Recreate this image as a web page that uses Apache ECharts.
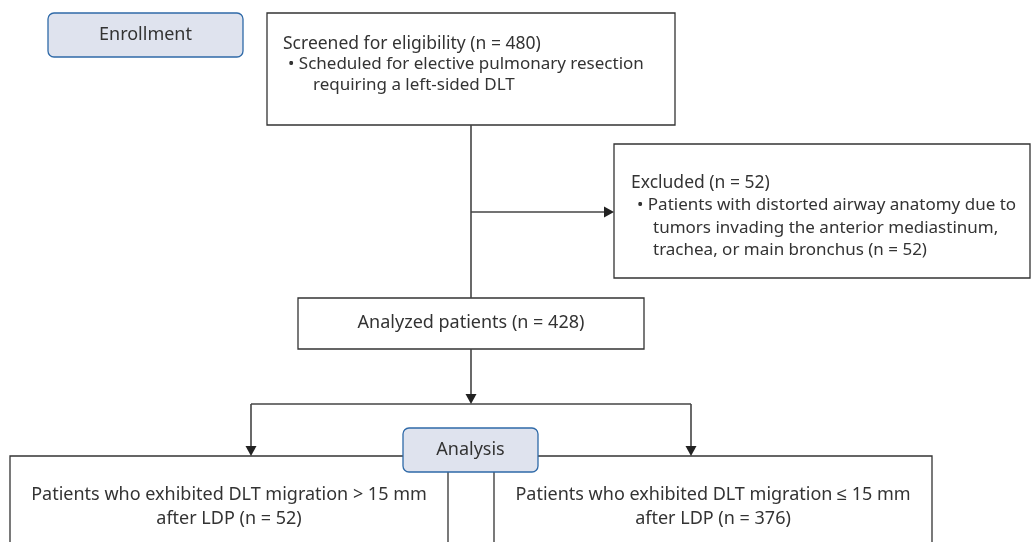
<!DOCTYPE html>
<html>
<head>
<meta charset="utf-8">
<script src="https://cdn.jsdelivr.net/npm/echarts@6/dist/echarts.min.js"></script>
<style>
  html, body { margin: 0; padding: 0; background: #fff; }
  #main { width: 1032px; height: 542px; }
</style>
</head>
<body>
<div id="main"></div>
<script>
// flow data
var stageLabels = ['Enrollment', 'Analysis'];
var boxTitles = ['Screened for eligibility', 'Excluded', 'Analyzed patients'];
var boxCounts = [480, 52, 428];
var screenedNotes = ['Scheduled for elective pulmonary resection', 'requiring a left-sided DLT'];
var excludedNotes = ['Patients with distorted airway anatomy due to', 'tumors invading the anterior mediastinum,', 'trachea, or main bronchus'];
var migrationLimit = 15;
var groupSigns = ['>', '≤'];
var groupCounts = [52, 376];

(function(){
    var myChart = echarts.init(document.getElementById('main'));
    var TXT = '#333';
    var LINE = '#444';
    var els = [];

    function nTxt(n){ return '(n = ' + n + ')'; }

    function box(x, y, w, h){
        els.push({ type: 'rect', shape: { x: x, y: y, width: w, height: h },
            style: { fill: '#fff', stroke: '#333', lineWidth: 1.3 }, z: 1 });
    }
    function stage(x, y, w, h, label){
        els.push({ type: 'rect', shape: { x: x, y: y, width: w, height: h, r: 6 },
            style: { fill: '#dfe3ee', stroke: '#2f6aa8', lineWidth: 1.3 }, z: 5 });
        text(x + w / 2, y + h / 2, label, 'center', 18);
    }
    function text(x, y, s, align, size){
        els.push({ type: 'text', x: x, y: y, z: 6,
            style: { text: s, font: (size || 18) + 'px "Noto Sans", sans-serif', fill: TXT,
                align: align || 'left', verticalAlign: 'middle' } });
    }
    function line(pts){
        els.push({ type: 'polyline', shape: { points: pts },
            style: { stroke: LINE, lineWidth: 1.6, fill: null }, z: 3 });
    }
    function arrowDown(x, y){
        els.push({ type: 'polygon', shape: { points: [[x - 5.5, y - 10], [x + 5.5, y - 10], [x, y]] },
            style: { fill: '#222' }, z: 4 });
    }
    function arrowRight(x, y){
        els.push({ type: 'polygon', shape: { points: [[x - 10, y - 5.5], [x - 10, y + 5.5], [x, y]] },
            style: { fill: '#222' }, z: 4 });
    }

    // boxes
    box(267, 13, 408, 112);
    box(614, 144, 416, 134);
    box(298, 298, 346, 51);
    box(10, 456, 438, 120);
    box(494, 456, 438, 120);

    // connectors
    line([[471, 125], [471, 298]]);
    line([[471, 212], [605, 212]]);
    arrowRight(614, 212);
    line([[471, 349], [471, 395]]);
    arrowDown(471, 404);
    line([[251, 404], [691, 404]]);
    line([[251, 404], [251, 447]]);
    arrowDown(251, 456);
    line([[691, 404], [691, 447]]);
    arrowDown(691, 456);

    // stage labels
    stage(48, 13, 195, 44, stageLabels[0]);
    stage(403, 428, 135, 44, stageLabels[1]);

    // screened
    text(283, 44, boxTitles[0] + ' ' + nTxt(boxCounts[0]), 'left', 17.5);
    text(288, 64, '• ' + screenedNotes[0], 'left', 17);
    text(313, 85, screenedNotes[1], 'left', 17);

    // excluded
    text(631, 183, boxTitles[1] + ' ' + nTxt(boxCounts[1]), 'left', 17.5);
    text(637, 205, '• ' + excludedNotes[0], 'left', 17);
    text(653, 228, excludedNotes[1], 'left', 17);
    text(653, 250, excludedNotes[2] + ' ' + nTxt(boxCounts[1]), 'left', 17);

    // analyzed
    text(471, 323, boxTitles[2] + ' ' + nTxt(boxCounts[2]), 'center');

    // groups
    var cx = [229, 713];
    for (var i = 0; i < 2; i++) {
        text(cx[i], 495, 'Patients who exhibited DLT migration ' + groupSigns[i] + ' ' + migrationLimit + ' mm', 'center');
        text(cx[i], 519, 'after LDP ' + nTxt(groupCounts[i]), 'center');
    }

    myChart.setOption({
        animation: false,
        graphic: { elements: els }
    });
})();
</script>
</body>
</html>
